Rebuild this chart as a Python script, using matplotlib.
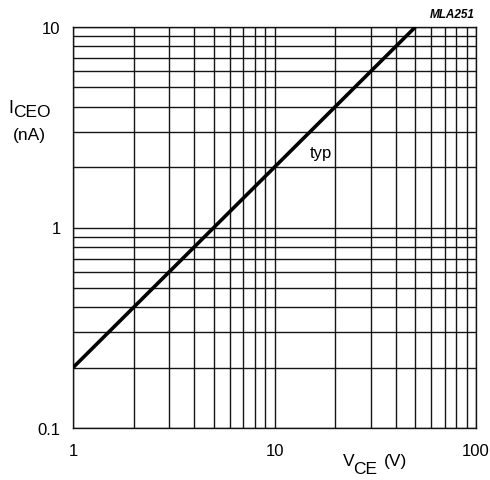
import matplotlib
matplotlib.use('Agg')
import matplotlib.pyplot as plt
import numpy as np
from matplotlib.ticker import FixedLocator, NullFormatter

plt.rcParams['font.family'] = ['Liberation Sans', 'DejaVu Sans']

# typical leakage current vs collector-emitter voltage
v_ce = [1, 50]
i_ceo = [0.2, 10]

x_ticks = [1, 10, 100]
x_labels = ['1', '10', '100']
y_ticks = [0.1, 1, 10]
y_labels = ['0.1', '1', '10']

W, H = 490, 481
fig = plt.figure(figsize=(W / 100, H / 100), dpi=100)
ax = fig.add_axes([73 / W, 1 - 429 / H, (476 - 73) / W, (429 - 28) / H])

ax.set_xscale('log')
ax.set_yscale('log')
ax.set_xlim(1, 100)
ax.set_ylim(0.1, 10)

# full decade grid, minor lines as strong as the major ones
minor_x = [m * d for d in (1, 10) for m in range(2, 10)]
minor_y = [m * d for d in (0.1, 1) for m in range(2, 10)]
ax.xaxis.set_minor_locator(FixedLocator(minor_x))
ax.yaxis.set_minor_locator(FixedLocator(minor_y))
ax.xaxis.set_minor_formatter(NullFormatter())
ax.yaxis.set_minor_formatter(NullFormatter())
ax.set_xticks(x_ticks)
ax.set_xticklabels(x_labels)
ax.set_yticks(y_ticks)
ax.set_yticklabels(y_labels)
ax.grid(True, which='both', color='#151515', linewidth=1.0)
ax.tick_params(which='both', length=0, labelsize=12, pad=9)
ax.tick_params(axis='x', pad=11)
for s in ax.spines.values():
    s.set_color('#151515')
    s.set_linewidth(1.0)

ax.plot(v_ce, i_ceo, color='black', linewidth=2.6, solid_capstyle='butt', zorder=5)
ax.text(15, 2.24, 'typ', fontsize=12, ha='left', va='baseline')

# axis titles with near full-size subscripts
fig.text(8 / W, 1 - 113 / H, 'I', fontsize=13, ha='left', va='baseline')
fig.text(13 / W, 1 - 117 / H, 'CEO', fontsize=12.5, ha='left', va='baseline')
fig.text(13 / W, 1 - 140 / H, '(nA)', fontsize=12.5, ha='left', va='baseline')

fig.text(343 / W, 1 - 466 / H, 'V', fontsize=12.5, ha='left', va='baseline')
fig.text(353 / W, 1 - 474 / H, 'CE', fontsize=12.5, ha='left', va='baseline')
fig.text(384 / W, 1 - 466 / H, '(V)', fontsize=12.5, ha='left', va='baseline')

fig.text(475 / W, 1 - 18 / H, 'MLA251', fontsize=8.5, fontweight='bold',
         fontstyle='italic', ha='right', va='baseline')

fig.savefig('out.png', dpi=100)
